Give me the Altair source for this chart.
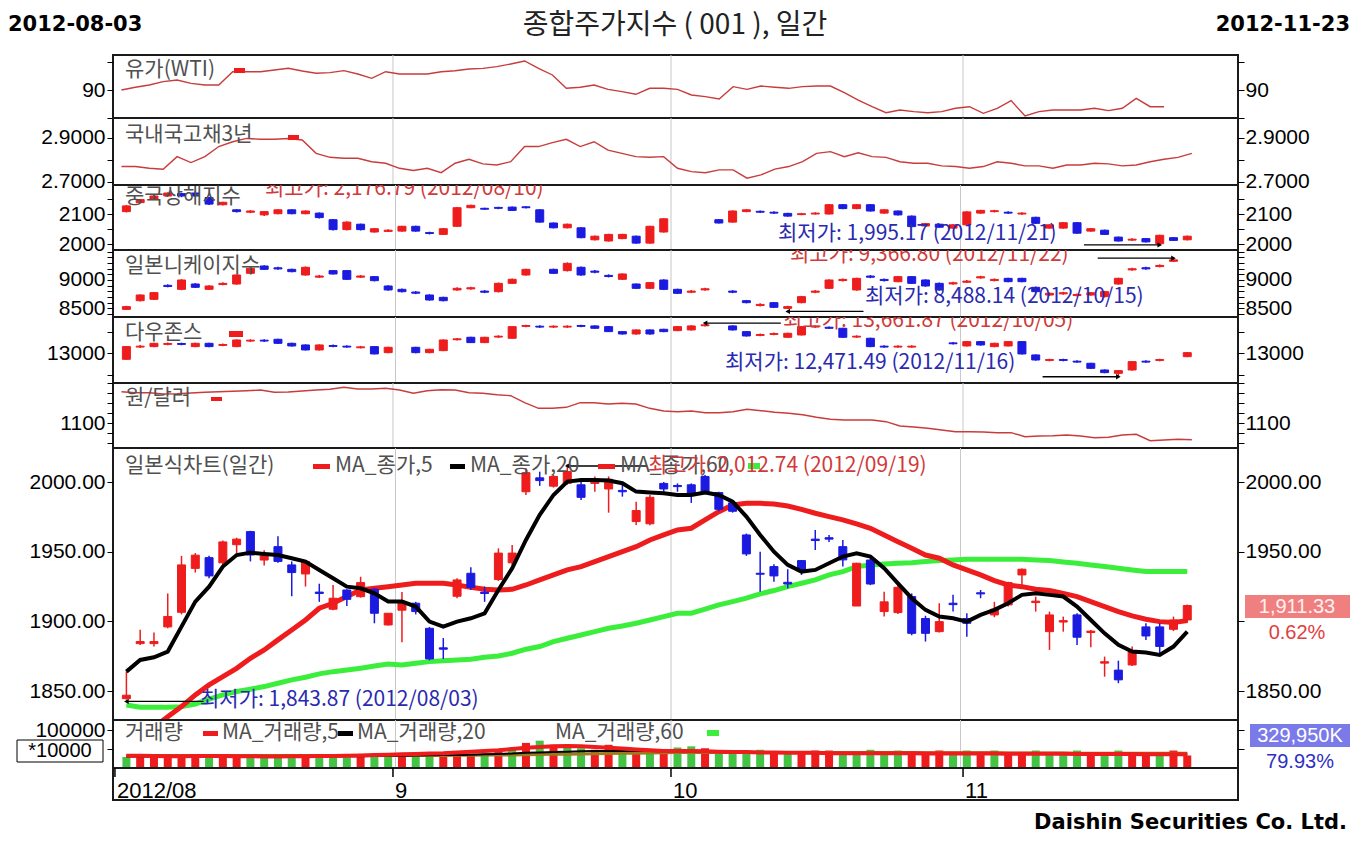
import altair as alt
import pandas as pd

# ---------------- data ----------------
N = 78
idx = list(range(N))
month_grid = [19.53, 39.53, 60.54]
month_ticks = [-0.47, 19.53, 39.53, 60.54]
month_labels = ["2012/08", "9", "10", "11"]

# KOSPI daily OHLC
k_open = [1844.5,1884,1884,1896,1906.5,1938,1945.7,1942,1955,1964.4, 1944,1953.6,1940.5,1934,1921,1908.7,1922.5,1917.7,1923,1897.4,
          1908,1913,1895,1881,1918,1934.5,1921,1930,1942,1993, 2003,1997,1999,1998,1999,1995,1994,1971.6,1970,1999,
          1997.5,1998,2004,1992.4,1985,1962,1934.5,1939.3,1928,1943.6, 1959,1960,1953.6,1911,1944,1907,1906.3,1917.8,1902,1892.6,
          1913,1902,1920.5,1904.6,1911.8,1933.3,1913.5,1892.6,1899.5,1904.6, 1892,1870,1865,1868.7,1896,1896,1894.3,1901]
k_high = [1864,1894,1892,1920,1947,1949,1947,1958,1960,1965, 1951,1961,1943,1944,1927,1926,1923,1932,1924,1906,
          1921,1914,1896,1888,1931,1938.8,1925,1952.4,1954.8,2009.8, 2007.4,2005,2012.74,2000,2004,2004,1998,1985.9,1990.7,2000,
          1999,1999,2005,1993,1986,1963,1950,1941,1937.4,1944, 1965.6,1962,1958.4,1942,1945,1921.3,1926,1920,1904,1913,
          1919,1905.8,1922.5,1914,1928.5,1938,1917.7,1907,1903.4,1905.8, 1893.8,1874.7,1871.8,1882,1898.6,1898.6,1903.4,1912]
k_low = [1843.87,1883,1882,1895,1905,1935,1931,1940,1949,1943, 1940,1942,1918,1925,1914,1908,1911,1917,1898.6,1897,
         1885,1905,1872,1873,1916.6,1922.5,1914,1929,1940.5,1990.7, 1997.2,1996,1998,1987,1993,1978,1989.5,1969.2,1969,1993,
         1993,1985,1992,1979,1978,1947,1921.3,1928.5,1923.7,1933.3, 1951.2,1957,1939.3,1911,1926,1903.4,1905.3,1890,1885.5,1892,
         1907,1889,1916.6,1903,1910.6,1924.9,1907,1879.5,1892.6,1883, 1881.4,1860.3,1855.6,1868,1886.7,1877.1,1893,1899]
k_close = [1847,1885.5,1885.5,1903.5,1940.5,1947.5,1932.6,1957,1959,1947.6, 1947,1943,1935,1943,1920,1916.6,1915.8,1927.8,1905.8,1905.8,
           1914,1907,1873,1880,1929.7,1924.4,1920,1949,1949,2006.7, 2001,2004,2007.5,1989,2002,2002,1993,1979.5,1989,1995,
           1996.7,1992,1993,1980.4,1979,1948.4,1933.8,1932.6,1926.8,1936.4, 1958,1959,1944.1,1941.7,1926.8,1914,1924.4,1891.4,1891.4,1899.8,
           1912,1898.6,1919.7,1908.7,1927.8,1937.4,1914.5,1904.6,1900.5,1888.6, 1893,1871,1858,1878.3,1889.5,1882,1901,1911.33]
ma5 = [1863.9,1872.3,1874.2,1878.3,1896.2,1914.2,1924.9,1939.3,1947.6,1949.3, 1948.4,1947.6,1945.3,1942.9,1936.9,1930.9,1924.9,1923.7,1920.1,1914.2,
       1914.2,1910.6,1899.8,1896.2,1899.8,1902.2,1905.8,1922.5,1938.1,1958.4, 1976.4,1990.7,2000.3,2001.5,2001.5,2001.0,1999.1,1993.1,1992.4,1991.9,
       1990.7,1990.7,1992.4,1990.7,1985.9,1975.2,1962.0,1950.0,1940.5,1935.7, 1936.9,1941.7,1946.5,1948.8,1946.5,1938.1,1927.3,1916.6,1908.2,1903.4,
       1902.2,1899.8,1904.6,1908.2,1913.0,1919.0,1920.1,1919.0,1917.8,1910.6, 1901.0,1891.4,1883.1,1878.3,1877.6,1875.9,1881.9,1892.6]
ma20 = [1810,1817,1824,1831.6,1838.8,1847.2,1854.4,1860.3,1866.3,1873.5, 1879.5,1886.7,1893.8,1901.0,1909.4,1913.0,1917.8,1922.5,1923.7,1924.9,
        1926.1,1927.3,1927.3,1927.3,1926.1,1924.4,1923.0,1922.5,1923.0,1926.1, 1929.7,1933.3,1936.9,1939.3,1942.9,1946.5,1950.0,1953.6,1958.4,1962.0,
        1965.6,1966.8,1972.8,1978.7,1983.5,1984.7,1984.7,1984.2,1982.8,1980.4, 1977.6,1975.2,1972.8,1969.9,1966.8,1962.0,1957.2,1952.4,1947.6,1945.3,
        1940.5,1936.9,1933.3,1929.2,1926.1,1924.9,1923.0,1922.1,1920.1,1917.8, 1914.2,1910.6,1907.0,1903.9,1901.5,1899.8,1899.1,1900.5]
ma60 = [1840.0,1838.3,1838.3,1838.3,1838.8,1840.7,1844.1,1847.2,1849.6,1851.3, 1853.2,1855.6,1858.0,1859.9,1862.3,1863.9,1865.1,1866.3,1868.0,1869.4,
        1868.7,1869.9,1871.1,1871.8,1872.3,1872.8,1874.2,1875.2,1877.1,1880.0, 1881.9,1885.5,1887.9,1890.2,1892.6,1895.0,1896.7,1898.6,1901.0,1903.4,
        1905.8,1905.8,1908.7,1911.8,1914.2,1916.6,1919.7,1922.1,1924.9,1927.3, 1929.7,1933.3,1935.7,1939.3,1940.5,1941.2,1941.7,1942.1,1942.9,1943.6,
        1944.1,1944.5,1944.5,1944.5,1944.5,1944.5,1944.1,1943.6,1942.6,1941.7, 1940.5,1939.3,1938.1,1936.9,1935.7,1935.7,1935.7,1935.7]

# WTI oil (index 0..75)
wti = [90.0,90.48,90.89,91.49,91.79,91.19,90.89,90.89,93.27,93.27, 93.27,93.57,93.87,93.39,92.98,93.10,93.45,92.86,92.08,93.27,
       92.86,92.86,92.86,93.27,93.45,93.75,93.87,94.17,94.64,95.18, 93.87,92.68,90.30,90.48,90.89,90.12,89.70,89.23,90.30,90.30,
       90.12,89.11,88.81,88.39,90.60,90.12,90.71,90.48,90.30,90.60, 90.71,90.71,89.52,88.21,87.02,85.95,86.43,86.13,85.95,86.13,
       86.73,87.02,85.83,86.73,88.10,85.36,86.13,86.43,86.43,86.43, 86.73,86.31,86.73,88.51,87.02,87.02]
# Korea treasury 3y
bond = [2.770,2.770,2.762,2.758,2.815,2.788,2.815,2.861,2.883,2.898, 2.894,2.894,2.898,2.891,2.830,2.812,2.808,2.808,2.792,2.785,
        2.762,2.752,2.762,2.742,2.785,2.803,2.782,2.777,2.792,2.861, 2.861,2.879,2.894,2.861,2.883,2.845,2.830,2.815,2.812,2.815,
        2.762,2.747,2.742,2.755,2.755,2.717,2.732,2.758,2.770,2.792, 2.830,2.838,2.815,2.833,2.815,2.812,2.792,2.785,2.785,2.773,
        2.770,2.762,2.770,2.792,2.785,2.773,2.773,2.762,2.777,2.777, 2.785,2.782,2.773,2.777,2.792,2.803,2.812,2.830]
# KRW/USD
won = [1131.6,1130.6,1130.6,1129.3,1129.6,1130.3,1131.0,1131.6,1132.0,1132.6, 1133.3,1131.0,1131.3,1132.3,1133.3,1134.0,1136.0,1134.3,1134.3,1135.0,
       1133.3,1130.0,1132.6,1133.6,1133.3,1130.6,1130.0,1128.6,1127.6,1120.6, 1115.0,1115.0,1116.0,1120.6,1120.6,1119.3,1120.0,1119.3,1115.0,1112.3,
       1111.6,1112.3,1110.6,1110.6,1111.6,1114.0,1112.6,1111.0,1110.0,1108.6, 1106.0,1104.0,1103.3,1103.3,1103.3,1101.6,1097.3,1096.3,1095.0,1093.3,
       1091.6,1091.6,1091.3,1090.6,1090.6,1086.6,1087.3,1087.6,1088.3,1087.3, 1085.6,1086.0,1088.3,1089.0,1082.6,1083.3,1084.0,1083.6]

# Shanghai composite (None = no trading)
cn_o = [2108,2138,2150,2160,2168,2170,2155,2131,2114,2106, 2097,2101,2114,2101,2103,2081,2048,2066,2040,2042,
        2043,2059,2038,2032,2059,2121,2119,2122,2123,2124, 2114,2070,2054,2054,2014,2010,2018,2026,2003,2040,
        None,None,None,2081,2073,2108,2109,2106,2102,2098, 2100,2100,2131,2118,2131,2103,2110,2093,2060,2066,
        2053,2064,2103,2108,2106,2100,2089,2053,2053,2071, 2043,2046,2023,2013,2018,2001,2021,2014]
cn_c = [2127,2148,2160,2170,2160,2160,2133,2139,2108,2110, 2108,2114,2101,2110,2088,2048,2073,2048,2051,2046,
        2059,2043,2035,2051,2121,2129,2116,2119,2112,2121, 2073,2054,2066,2021,2026,2032,2032,2003,2059,2084,
        None,None,None,2070,2110,2114,2106,2103,2093,2101, 2103,2131,2118,2131,2110,2114,2097,2058,2068,2056,
        2064,2107,2112,2111,2103,2103,2069,2064,2071,2036, 2051,2032,2010,2016,2007,2029,2012,2026]
cn_h = [2130,2150,2163,2172,2170,2176.79,2157,2141,2116,2113, 2110,2116,2116,2112,2105,2083,2076,2068,2053,2049,
        2061,2061,2041,2053,2123,2131,2121,2124,2125,2126, 2116,2072,2068,2056,2028,2034,2034,2028,2061,2086,
        None,None,None,2083,2112,2116,2112,2109,2104,2104, 2106,2133,2133,2133,2133,2116,2112,2095,2070,2068,
        2066,2109,2114,2114,2109,2106,2091,2066,2073,2073, 2053,2048,2025,2019,2020,2031,2023,2028]
cn_l = [2105,2136,2148,2157,2156,2157,2130,2128,2105,2103, 2093,2099,2099,2099,2085,2045,2045,2045,2038,2040,
        2041,2041,2032,2030,2057,2119,2114,2116,2110,2118, 2071,2052,2052,2019,2012,2008,2016,2001,2001,2038,
        None,None,None,2068,2071,2106,2103,2100,2091,2096, 2098,2098,2116,2116,2108,2101,2095,2056,2058,2054,
        2051,2062,2101,2105,2100,2097,2067,2051,2051,2034, 2041,2030,2008,2010,2005,1995.17,2010,2012]

# Nikkei 225
jp_o = [8482,8635,8659,8905,8835,8929,8835,8920,8929,9118, 9247,9215,9188,9088,9050,9165,9165,9050,9059,8894,
        8835,8787,8735,8694,8824,8843,8804,8794,8941,9088, None,9188,9165,9224,9157,9081,9012,8929,8853,9000,
        8835,8784,8825,None,8804,8635,8549,8600,8500,8600, 8784,8853,8990,8824,9069,9010,8970,9059,9000,8941,
        8931,8960,9037,8990,9029,9029,8871,8735,8755,8725, 8735,8706,8929,9178,9216,9237,9330,None]
jp_c = [8530,8735,8777,8885,9000,8871,8894,8940,9088,9206, 9188,9195,9147,9224,9070,9106,9012,9070,8988,8824,
        8794,8767,8647,8635,8853,8863,8784,8941,9012,9188, None,9118,9294,9088,9137,9061,9106,8853,8953,8835,
        8765,8804,8845,None,8784,8600,8569,8518,8530,8706, 8804,9000,9010,9029,9049,8990,9059,8941,8894,8824,
        8951,8980,9057,9010,8970,8970,8794,8765,8775,8745, 8775,8794,9029,9198,9196,9257,9355,None]
jp_h = [8545,8750,8790,8925,9015,8945,8905,8960,9100,9220, 9260,9235,9200,9240,9090,9178,9175,9088,9070,8905,
        8848,8805,8748,8705,8870,8880,8822,8955,9025,9200, None,9200,9310,9238,9175,9100,9118,8940,8965,9012,
        8848,8822,8862,None,8822,8648,8588,8612,8545,8720, 8822,9012,9028,9040,9088,9028,9072,9070,9012,8955,
        8968,8998,9075,9028,9040,9040,8885,8780,8792,8762, 8790,8808,9042,9215,9235,9275,9366.8,None]
jp_l = [8470,8620,8645,8870,8820,8860,8825,8905,8915,9105, 9175,9180,9135,9075,9035,9095,9000,9035,8975,8810,
        8780,8750,8635,8622,8810,8828,8768,8780,8930,9075, None,9105,9150,9075,9120,9045,9000,8840,8840,8822,
        8752,8768,8810,None,8768,8588,8532,8505,8488.14,8588, 8768,8840,8975,8810,9032,8975,8958,8930,8880,8810,
        8915,8945,9022,8975,8958,8958,8780,8722,8740,8710, 8722,8692,8915,9162,9180,9222,9318,None]

# Dow Jones
dj_o = [12862,13144,13154,13205,13225,13154,13230,13182,13154,13282, 13302,13323,13230,13192,13077,13179,13164,13128,13154,13015,
        None,13138,13015,13061,13313,13369,13246,13374,13346,13620, 13624,13604,13604,13640,13630,13614,13499,13445,13538,13553,
        13522,13538,13635,None,13630,13499,13412,13435,13369,13422, 13604,13600,13576,13374,13346,13164,13144,13144,None,None,
        13240,13169,13269,13154,13169,13269,12962,12836,12856,12818, 12770,12616,12539,12616,12818,12836,None,12923]
dj_c = [13154,13164,13230,13225,13205,13230,13154,13202,13307,13302, 13282,13230,13169,13077,13192,13159,13144,13148,12985,13138,
        None,13015,13092,13307,13333,13246,13369,13394,13614,13640, 13604,13624,13624,13620,13576,13499,13445,13538,13445,13499,
        13614,13630,13655,None,13538,13399,13432,13455,13461,13614, 13624,13576,13369,13394,13154,13144,13164,13164,None,None,
        13220,13269,13192,13230,13269,12985,12846,12856,12836,12798, 12654,12555,12601,12808,12798,12856,None,13015]
dj_h = [13165,13190,13245,13250,13245,13245,13245,13225,13320,13325, 13325,13335,13245,13205,13205,13200,13185,13170,13165,13150,
        None,13150,13105,13320,13355,13380,13380,13415,13625,13655, 13645,13645,13645,13655,13645,13625,13510,13550,13550,13565,
        13625,13645,13661.87,None,13645,13510,13455,13478,13475,13625, 13645,13615,13590,13415,13360,13185,13185,13185,None,None,
        13260,13285,13285,13245,13285,13285,12975,12875,12875,12840, 12785,12630,12615,12820,12840,12875,None,13030]
dj_l = [12850,13120,13140,13185,13185,13140,13140,13160,13140,13260, 13260,13215,13155,13065,13065,13140,13125,13110,12975,13000,
        None,13000,13000,13050,13295,13235,13235,13355,13335,13600, 13585,13585,13585,13600,13565,13490,13430,13430,13430,13485,
        13510,13525,13620,None,13525,13385,13395,13418,13355,13410, 13585,13560,13355,13355,13140,13125,13125,13125,None,None,
        13200,13155,13175,13140,13155,12970,12830,12815,12815,12780, 12640,12540,12471.49,12600,12780,12815,None,12910]

# volume (unit: 10,000 shares) and its moving averages
vol = [29000,31000,30000,31000,33000,31000,29000,31000,28000,28000, 28000,29000,31000,28000,28000,30000,28000,31000,33000,30000,
       33000,33000,37000,31000,39000,37000,37000,46000,48000,66000, 72000,61000,54000,52000,48000,61000,46000,42000,48000,42000,
       54000,57000,52000,46000,42000,46000,48000,42000,39000,42000, 46000,46000,42000,39000,48000,42000,46000,39000,42000,46000,
       42000,46000,39000,46000,37000,42000,46000,39000,39000,46000, 42000,39000,46000,37000,42000,39000,46000,32995]
vol_up = [0,1,1,1,1,1,0,1,1,0, 0,0,0,1,0,0,0,1,0,0, 1,0,0,1,1,1,0,1,0,1, 0,1,0,0,1,1,0,1,0,1,
          0,0,1,0,0,0,0,1,0,1, 1,1,0,0,0,0,0,1,1,1, 0,0,1,0,1,1,0,0,0,0, 1,0,0,1,1,0,1,1]
vma5 = [32000,32000,31500,31000,31000,31500,31500,31500,31000,31000, 30500,30500,31000,31000,31500,31500,32000,33000,34000,35000,
        36000,37000,38000,39000,41000,43000,45000,47000,50000,53000, 55000,57000,58000,57000,55000,53000,51000,49000,47000,45000,
        45000,45000,44000,43000,42000,42000,41000,41000,40000,40000, 40000,39000,39000,39000,39000,39000,38500,38500,38000,38000,
        38000,38000,38000,38000,37500,37500,37500,37500,37500,37000, 37000,37000,37000,37000,36500,36500,36500,36000]
vma20 = [30000,30000,30000,30000,30000,30000,30000,30000,30000,30000, 30000,30000,30000,30000,30500,30500,31000,31000,31500,32000,
         32500,33000,33500,34000,34500,35000,36000,37000,38000,40000, 41000,42000,43000,44000,44500,45000,45000,45000,44500,44000,
         43500,43000,42500,42000,41500,41000,40500,40000,40000,39500, 39000,39000,38500,38500,38000,38000,38000,38000,37500,37500,
         37500,37500,37500,37000,37000,37000,37000,37000,37000,37000, 36500,36500,36500,36500,36500,36000,36000,36000]
vma60 = [33000,33000,33000,33000,33000,33000,33000,33000,33000,33000, 33000,33000,33000,33000,33000,33000,33000,33000,33000,33000,
         33000,33000,33000,33000,33500,33500,34000,34000,34500,35000, 35500,36000,36500,37000,37500,38000,38500,39000,39500,40000,
         40500,41000,41000,41000,41000,41000,41000,41000,41000,41000, 41000,41000,41000,41000,41000,40500,40500,40500,40000,40000,
         40000,40000,40000,40000,39500,39500,39500,39500,39500,39000, 39000,39000,39000,39000,39000,38500,38500,38500]

# ---------------- style ----------------
W = 1125
XD = [-0.61, 80.32]
RED = "#EE1C1C"
BLUE = "#1A1AE0"
LRED = "#C83C3C"
GREEN = "#3CEE3C"
VGREEN = "#44C444"
TXT_RED = "#D03A3A"
TXT_BLUE = "#2A2AB0"
GRAY = "#505050"
FNUM = "Liberation Sans"
FKR = "Noto Sans CJK KR"
LAB = 21   # panel label size
NUM = 21   # axis label size

XSC = alt.Scale(domain=XD, nice=False, zero=False)


def X(f="i"):
    return alt.X(f"{f}:Q", scale=XSC, axis=None)


def Y(f, dom):
    return alt.Y(f"{f}:Q", scale=alt.Scale(domain=dom, nice=False, zero=False), axis=None)


ONE = pd.DataFrame({"z": [0]})


def axes(dom, ticks, labeled, fmt, right_labeled=None):
    d = pd.DataFrame({"v": dom})

    def cond(vals):
        return " || ".join(f"abs(datum.value - {v}) < 1e-6" for v in vals) if vals else "false"

    rl = labeled if right_labeled is None else right_labeled
    common = dict(values=ticks, format=fmt, tickSize=6, tickColor="black", tickWidth=1,
                  domain=False, grid=False, labelFont=FNUM, labelFontSize=NUM, labelColor="black",
                  title=None, labelOverlap=False, labelBound=False, labelFlush=False)
    left = alt.Chart(d).mark_point(opacity=0).encode(
        y=alt.Y("v:Q", scale=alt.Scale(domain=dom, nice=False, zero=False),
                axis=alt.Axis(orient="left", labelPadding=2,
                              labelExpr=f"({cond(labeled)}) ? datum.label : ''", **common)))
    right = alt.Chart(d).mark_point(opacity=0).encode(
        y=alt.Y("v:Q", scale=alt.Scale(domain=dom, nice=False, zero=False),
                axis=alt.Axis(orient="right", labelPadding=1,
                              labelExpr=f"({cond(rl)}) ? datum.label : ''", **common)))
    return [left, right]


def grid():
    return alt.Chart(pd.DataFrame({"g": month_grid})).mark_rule(color="#C8C8C8", strokeWidth=1).encode(x=X("g"))


def text(t, x, y, color=GRAY, size=LAB, font=FKR, align="left", weight="normal", clip=False, baseline="middle"):
    return alt.Chart(ONE).mark_text(text=t, color=color, fontSize=size, font=font, align=align,
                                    baseline=baseline, fontWeight=weight, clip=clip).encode(
        x=alt.value(x), y=alt.value(y))


def box(x1, x2, y1, y2, fill, stroke=None):
    kw = dict(fill=fill)
    if stroke:
        kw.update(stroke=stroke, strokeWidth=1)
    return alt.Chart(ONE).mark_rect(**kw).encode(
        x=alt.value(x1), x2=alt.value(x2), y=alt.value(y1), y2=alt.value(y2))


def line_layer(vals, dom, color, width):
    df = pd.DataFrame({"i": idx[:len(vals)], "v": vals})
    return alt.Chart(df).mark_line(color=color, strokeWidth=width, clip=True).encode(x=X(), y=Y("v", dom))


def candles(o, h, l, c, dom, size=8):
    df = pd.DataFrame({"i": idx, "o": o, "h": h, "l": l, "c": c}).dropna()
    df["up"] = [cc >= oo for oo, cc in zip(df["o"], df["c"])]
    col = alt.condition("datum.up", alt.value(RED), alt.value(BLUE))
    wick = alt.Chart(df).mark_rule(strokeWidth=1.5, clip=True).encode(
        x=X(), y=Y("l", dom), y2="h:Q", color=col)
    body = alt.Chart(df).mark_bar(size=size, strokeWidth=1, clip=True).encode(
        x=X(), y=Y("o", dom), y2="c:Q", color=col, stroke=col)
    return [wick, body]


def arrow(a, b, v, dom, head_at, shape):
    df = pd.DataFrame({"a": [a], "b": [b], "v": [v], "p": [head_at]})
    r = alt.Chart(df).mark_rule(color="black", strokeWidth=1.3).encode(x=X("a"), x2="b:Q", y=Y("v", dom))
    p = alt.Chart(df).mark_point(shape=shape, filled=True, size=28, color="black", opacity=1).encode(
        x=X("p"), y=Y("v", dom))
    return [r, p]


def panel(layers, h):
    return alt.layer(*layers).resolve_scale(y="independent").properties(width=W, height=h)


# ---------------- title row ----------------
title_row = alt.layer(
    text("2012-08-03", -105, 17, color="black", size=21, font="DejaVu Sans", weight="bold"),
    text("종합주가지수 ( 001 ), 일간", 562, 18, color="#222222", size=28, font=FKR, align="center"),
    text("2012-11-23", 1237, 17, color="black", size=21, font="DejaVu Sans", weight="bold", align="right"),
).properties(width=W, height=47, view=alt.ViewBackground(strokeOpacity=0))

# ---------------- oil ----------------
D_WTI = [85.0, 96.25]
p_wti = panel([grid(), line_layer(wti, D_WTI, LRED, 1.4),
               text("유가(WTI)", 12, 15), box(121, 132, 13, 18, RED)]
              + axes(D_WTI, [85, 90, 95], [90], "d"), 63)

# ---------------- bond ----------------
D_BD = [2.686, 2.991]
p_bond = panel([grid(), line_layer(bond, D_BD, LRED, 1.4),
                text("국내국고채3년", 12, 17), box(175, 186, 17, 22, RED)]
               + axes(D_BD, [2.7, 2.8, 2.9], [2.7, 2.9], ".4f"), 67)

# ---------------- shanghai ----------------
D_CN = [1980, 2196.7]
p_cn = panel([grid()] + candles(cn_o, cn_h, cn_l, cn_c, D_CN)
             + arrow(69.5, 75, 1997, D_CN, 75, "triangle-right")
             + [text("중국상해지수", 12, 12),
                text("최고가: 2,176.79 (2012/08/10)", 152, 4, color=TXT_RED, clip=True),
                text("최저가: 1,995.17 (2012/11/21)", 665, 49, color=TXT_BLUE)]
             + axes(D_CN, [2000, 2050, 2100, 2150], [2000, 2100], "d"), 65)

# ---------------- nikkei ----------------
D_JP = [8347, 9529]
p_jp = panel([grid()] + candles(jp_o, jp_h, jp_l, jp_c, D_JP)
             + arrow(70.5, 76, 9385, D_JP, 76, "triangle-right")
             + arrow(48, 53.5, 8445, D_JP, 48, "triangle-left")
             + [text("일본니케이지수", 12, 16),
                text("최고가: 9,366.80 (2012/11/22)", 677, 5, color=TXT_RED, clip=True),
                text("최저가: 8,488.14 (2012/10/15)", 752, 47, color=TXT_BLUE)]
             + axes(D_JP, list(range(8400, 9600, 100)), [8500, 9000], "d"), 67)

# ---------------- dow ----------------
D_DJ = [12316, 13836]
p_dj = panel([grid()] + candles(dj_o, dj_h, dj_l, dj_c, D_DJ)
             + arrow(42, 47.5, 13695, D_DJ, 42, "triangle-left")
             + arrow(66.5, 72, 12460, D_DJ, 72, "triangle-right")
             + [text("다우존스", 12, 16), box(116, 130, 14, 20, RED),
                text("최고가: 13,661.87 (2012/10/05)", 670, 4, color=TXT_RED, clip=True),
                text("최저가: 12,471.49 (2012/11/16)", 612, 46, color=TXT_BLUE)]
             + axes(D_DJ, [12500, 13000, 13500], [13000], "d"), 66)

# ---------------- won/dollar ----------------
D_WN = [1075.3, 1140.3]
p_won = panel([grid(), line_layer(won, D_WN, LRED, 1.4),
               text("원/달러", 12, 15), box(98, 109, 14, 18, RED)]
              + axes(D_WN, [1080, 1090, 1100, 1110, 1120, 1130, 1140], [1100], "d"), 65)

# ---------------- main candlestick ----------------
D_MN = [1829.2, 2024.4]
p_main = panel([grid(),
                line_layer(ma60, D_MN, GREEN, 5),
                line_layer(ma20, D_MN, RED, 5)]
               + candles(k_open, k_high, k_low, k_close, D_MN)
               + [line_layer(ma5, D_MN, "black", 4)]
               + arrow(0, 5.6, 1842.5, D_MN, 0, "triangle-left")
               + arrow(32, 37.8, 2011.5, D_MN, 32, "triangle-left")
               + [text("일본식차트(일간)", 12, 18),
                  box(200, 217, 16, 21, RED),
                  text("MA_종가,5", 222, 18),
                  box(337, 352, 16, 21, "black"),
                  text("MA_종가,20", 357, 18),
                  box(485, 502, 16, 21, RED),
                  text("MA_종가,60", 507, 18),
                  box(635, 647, 15, 21, GREEN),
                  text("최고가: 2,012.74 (2012/09/19)", 535, 18, color=TXT_RED),
                  text("최저가: 1,843.87 (2012/08/03)", 87, 252, color=TXT_BLUE),
                  box(1132, 1237, 147, 170, "#F08080"),
                  text("1,911.33", 1184, 158.5, color="#FFF0F0", font=FNUM, size=20, align="center"),
                  text("0.62%", 1184, 185, color="#E04040", font=FNUM, size=20, align="center")]
               + axes(D_MN, [1850, 1900, 1950, 2000], [1850, 1900, 1950, 2000], ".2f",
                      right_labeled=[1850, 1950, 2000]), 272)

# ---------------- volume ----------------
D_VL = [0, 126316]
vdf = pd.DataFrame({"i": idx, "v": vol, "up": [bool(u) for u in vol_up]})
vbars = alt.Chart(vdf).mark_bar(size=8, clip=True).encode(
    x=X(), y=Y("v", D_VL),
    color=alt.condition("datum.up", alt.value(RED), alt.value(VGREEN)))
p_vol = panel([grid(), vbars,
               line_layer(vma60, D_VL, "#9C7A1E", 3),
               line_layer(vma20, D_VL, "black", 2),
               line_layer(vma5, D_VL, RED, 4),
               text("거래량", 12, 13),
               box(90, 105, 11, 16, RED),
               text("MA_거래량,5", 109, 13),
               box(225, 240, 11, 16, "black"),
               text("MA_거래량,20", 244, 13),
               text("MA_거래량,60", 442, 13),
               box(594, 606, 10, 16, GREEN),
               box(-96, -10, 20, 42, "white", stroke="black"),
               text("*10000", -53, 31, color="black", font=FNUM, size=20, align="center"),
               box(1137, 1237, 4, 27, "#7A7AE8"),
               text("329,950K", 1187, 15.5, color="white", font=FNUM, size=20, align="center"),
               text("79.93%", 1187, 42, color="#3030C0", font=FNUM, size=20, align="center")]
              + axes(D_VL, [50000, 100000], [100000], "d", right_labeled=[]), 48)

# ---------------- x axis strip + footer ----------------
mt = pd.DataFrame({"i": month_ticks, "lab": month_labels})
xstrip = alt.layer(
    alt.Chart(mt).mark_rule(color="black", strokeWidth=1.5).encode(x=X(), y=alt.value(0), y2=alt.value(9)),
    alt.Chart(mt).mark_text(align="left", baseline="middle", dx=2, font=FNUM, fontSize=22, color="black").encode(
        x=X(), y=alt.value(23), text="lab:N"),
    text("Daishin Securities Co. Ltd.", 1234, 65, color="black", size=21, font="DejaVu Sans",
         weight="bold", align="right", baseline="bottom"),
).properties(width=W, height=32)

chart = alt.vconcat(title_row, p_wti, p_bond, p_cn, p_jp, p_dj, p_won, p_main, p_vol, xstrip,
                    spacing=0, bounds="flush").properties(
    padding={"left": 0, "top": 0, "right": 0, "bottom": 0}, background="white"
).configure_view(stroke="#1A1A1A", strokeWidth=2)

chart.save("out.html", embed_options={"renderer": "svg", "actions": False})
